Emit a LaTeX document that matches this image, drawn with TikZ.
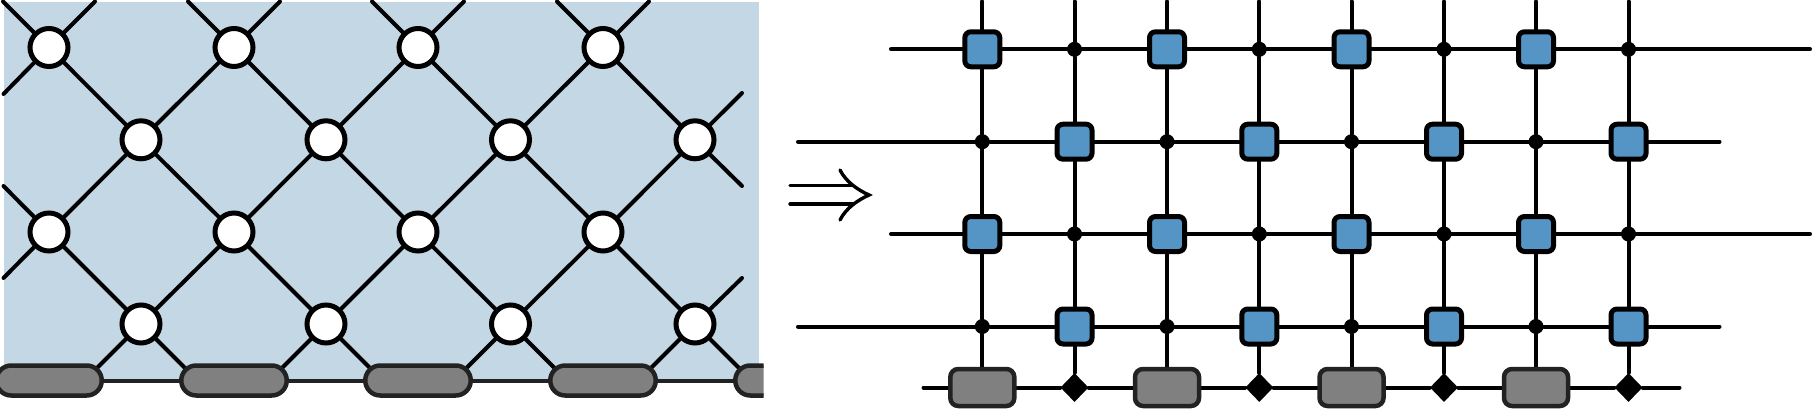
\documentclass[tikz,border=0pt]{standalone}
\usetikzlibrary{shapes.geometric}
\pgfdeclarelayer{back}
\pgfdeclarelayer{wires}
\pgfsetlayers{back,wires,main}
\definecolor{panel}{HTML}{C4D7E5}
\definecolor{tensor}{HTML}{5595C5}
\definecolor{gategray}{HTML}{808080}
\definecolor{gateedge}{HTML}{222222}
\tikzset{
  wire/.style={line width=4pt,black,line cap=round},
  site/.style={circle,draw=black,fill=white,line width=5pt,minimum size=38pt,inner sep=0pt},
  pill/.style={rectangle,rounded corners=15pt,draw=gateedge,fill=gategray,line width=4.5pt,minimum width=105.5pt,minimum height=30pt,inner sep=0pt},
  bluebox/.style={rectangle,rounded corners=6pt,draw=black,fill=tensor,line width=5pt,minimum size=35pt,inner sep=0pt},
  dotnode/.style={circle,fill=black,draw=none,minimum size=15pt,inner sep=0pt},
  graybox/.style={rectangle,rounded corners=8pt,draw=gateedge,fill=gategray,line width=4.5pt,minimum width=64pt,minimum height=37pt,inner sep=0pt},
  diam/.style={diamond,fill=black,draw=none,minimum width=28pt,minimum height=29pt,inner sep=0pt},
}
\begin{document}
\begin{tikzpicture}[x=1pt,y=-1pt]
\useasboundingbox (0,0) rectangle (1813,409);
\begin{pgfonlayer}{back}
  \fill[panel] (3.5,2) rectangle (759,380);
\end{pgfonlayer}
% ---------- left: sites
\foreach \k/\x in {1/49,2/234,3/418,4/603}{
  \node[site] (a1\k) at (\x,47.5) {};
  \node[site] (a3\k) at (\x,232) {};
}
\foreach \k/\x in {1/141,2/326,3/510.5,4/695}{
  \node[site] (a2\k) at (\x,139.8) {};
  \node[site] (a4\k) at (\x,324) {};
}
% pills
\foreach \k/\x in {1/49,2/234,3/418,4/603}{
  \node[pill] (p\k) at (\x,380.5) {};
}
\begin{scope}
  \clip (725,355) rectangle (763.5,405);
  \node[pill] (p5) at (788,380.5) {};
\end{scope}
% free ends
\foreach \k/\x in {1/49,2/234,3/418,4/603}{
  \coordinate (tl\k) at ({\x-46},1.5);
  \coordinate (tr\k) at ({\x+46},1.5);
}
\coordinate (l1) at (3.5,94);
\coordinate (l3a) at (3.5,186);
\coordinate (l3b) at (3.5,278);
\coordinate (r2a) at (742,93);
\coordinate (r2b) at (742,186);
\coordinate (r4) at (742,278);
\foreach \k/\x in {1/141,2/326,3/510.5,4/695}{
  \coordinate (dl\k) at ({\x-56},380);
  \coordinate (dr\k) at ({\x+56},380);
}
\begin{pgfonlayer}{wires}
  \foreach \k in {1,2,3,4}{
    \draw[wire] (a1\k) -- (tl\k);
    \draw[wire] (a1\k) -- (tr\k);
    \draw[wire] (a1\k) -- (a2\k);
    \draw[wire] (a2\k) -- (a3\k);
    \draw[wire] (a3\k) -- (a4\k);
    \draw[wire] (a4\k) -- (dl\k);
    \draw[wire] (a4\k) -- (dr\k);
  }
  \foreach \k/\n in {2/1,3/2,4/3}{
    \draw[wire] (a1\k) -- (a2\n);
    \draw[wire] (a2\n) -- (a3\k);
    \draw[wire] (a3\k) -- (a4\n);
  }
  \draw[wire] (a11) -- (l1);
  \draw[wire] (a31) -- (l3a);
  \draw[wire] (a31) -- (l3b);
  \draw[wire] (a24) -- (r2a);
  \draw[wire] (a24) -- (r2b);
  \draw[wire] (a44) -- (r4);
  \draw[wire,gateedge,line cap=butt] (p1) -- (p2);
  \draw[wire,gateedge,line cap=butt] (p2) -- (p3);
  \draw[wire,gateedge,line cap=butt] (p3) -- (p4);
  \draw[wire,gateedge,line cap=butt] (p4) -- (p5);
\end{pgfonlayer}
% ---------- arrow
\coordinate (s1) at (790,185.7);
\coordinate (e1) at (853,185.7);
\coordinate (s2) at (790,204);
\coordinate (e2) at (853,204);
\coordinate (tip) at (869,195);
\coordinate (b1) at (840,170);
\coordinate (b2) at (840,220);
\draw[wire,line width=3.4pt] (s1) -- (e1);
\draw[wire,line width=3.4pt] (s2) -- (e2);
\draw[line width=3.4pt,line cap=round,line join=miter,miter limit=20] (b1) .. controls (846,182) and (858,190) .. (tip) .. controls (858,200) and (846,208) .. (b2);
% ---------- right grid
\foreach \r/\y in {1/49.3,2/141.7,3/234,4/326.5}{
  \foreach \c/\x in {1/982.3,2/1074.5,3/1167,4/1259.3,5/1351.5,6/1444,7/1536,8/1628.5}{
    \pgfmathtruncatemacro{\parity}{mod(\r+\c,2)}
    \ifnum\parity=0
      \node[bluebox] (g\r\c) at (\x,\y) {};
    \else
      \node[dotnode] (g\r\c) at (\x,\y) {};
    \fi
  }
}
\foreach \c/\x in {1/982.3,3/1167,5/1351.5,7/1536}{
  \node[graybox] (g5\c) at (\x,387.5) {};
}
\foreach \c/\x in {2/1074.5,4/1259.3,6/1444,8/1628.5}{
  \node[diam] (g5\c) at (\x,387.5) {};
}
\foreach \c/\x in {1/982.3,2/1074.5,3/1167,4/1259.3,5/1351.5,6/1444,7/1536,8/1628.5}{
  \coordinate (top\c) at (\x,1.5);
}
\coordinate (w1a) at (891,49.3);  \coordinate (w1b) at (1810,49.3);
\coordinate (w2a) at (798,141.7); \coordinate (w2b) at (1719.5,141.7);
\coordinate (w3a) at (891,234);   \coordinate (w3b) at (1810,234);
\coordinate (w4a) at (798,326.5); \coordinate (w4b) at (1719.5,326.5);
\coordinate (w5a) at (923.5,387.5); \coordinate (w5b) at (1679.5,387.5);
\begin{pgfonlayer}{wires}
  \foreach \c in {1,...,8}{
    \draw[wire] (top\c) -- (g1\c);
    \draw[wire] (g1\c) -- (g2\c);
    \draw[wire] (g2\c) -- (g3\c);
    \draw[wire] (g3\c) -- (g4\c);
    \draw[wire] (g4\c) -- (g5\c);
  }
  \foreach \r in {1,2,3,4,5}{
    \draw[wire] (w\r a) -- (g\r1);
    \foreach \c/\n in {1/2,2/3,3/4,4/5,5/6,6/7,7/8}{
      \draw[wire] (g\r\c) -- (g\r\n);
    }
    \draw[wire] (g\r8) -- (w\r b);
  }
\end{pgfonlayer}
\end{tikzpicture}
\end{document}
